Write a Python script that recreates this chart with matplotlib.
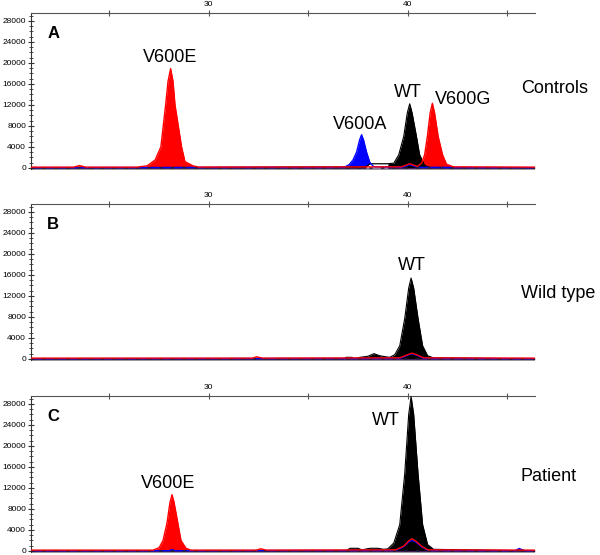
import numpy as np
import matplotlib
matplotlib.use("Agg")
import matplotlib.pyplot as plt
from matplotlib.ticker import MultipleLocator, FixedLocator

plt.rcParams['font.family'] = ['Liberation Sans', 'DejaVu Sans']

# axis ranges (capillary electrophoresis, size units / RFU)
X_MIN, X_MAX = 21.06, 46.4
Y_MIN, Y_MAX = -400, 29500
y_ticks = [0, 4000, 8000, 12000, 16000, 20000, 24000, 28000]
x_ticks = [25, 30, 35, 40, 45]
x_tick_labels = ['', '30', '', '40', '']

panel_letters = ['A', 'B', 'C']
panel_names = ['Controls', 'Wild type', 'Patient']

# ---- panel A : controls ----
a_red_x = [21.06, 23.2, 23.5, 23.8, 26.4, 26.9, 27.3, 27.59, 27.83, 27.95, 28.08, 28.2, 28.3, 28.63,
           28.8, 29.2, 29.5, 39.7, 40.1, 40.4, 40.5, 40.7, 40.85, 40.99, 41.13, 41.24, 41.35, 41.53,
           41.75, 41.95, 42.3, 46.4]
a_red_y = [150, 150, 450, 150, 150, 400, 1500, 4000, 12000, 16500, 18900, 16500, 12000, 4000,
           1200, 400, 150, 200, 800, 400, 300, 900, 2500, 6000, 10500, 12300, 10500, 6000,
           2500, 700, 200, 150]
a_blue_x = [21.06, 36.8, 37.05, 37.25, 37.43, 37.58, 37.68, 37.78, 37.93, 38.1, 38.3,
            39.7, 40.1, 40.5, 46.4]
a_blue_y = [40, 100, 600, 1500, 3000, 5300, 6300, 5300, 3000, 1000, 200,
            100, 600, 100, 40]
a_black_x = [21.06, 37.9, 38.1, 39.0, 39.3, 39.55, 39.8, 39.98, 40.1, 40.22, 40.44, 40.6, 40.85, 41.1, 46.4]
a_black_y = [0, 200, 800, 800, 900, 2500, 6000, 10500, 12200, 10500, 6000, 2500, 500, 100, 0]
a_labels = ['V600E', 'V600A', 'WT', 'V600G']
a_label_x = [28.05, 37.6, 40.0, 42.8]
a_label_y = [21000, 8300, 14300, 13000]

# ---- panel B : wild type ----
b_red_x = [21.06, 32.2, 32.4, 32.7, 39.6, 40.0, 40.2, 40.45, 40.8, 46.4]
b_red_y = [150, 150, 400, 150, 200, 800, 1100, 800, 200, 150]
b_blue_x = [21.06, 39.6, 40.0, 40.2, 40.45, 40.8, 46.4]
b_blue_y = [40, 100, 700, 1000, 700, 100, 40]
b_black_x = [21.06, 36.8, 36.9, 37.2, 37.3, 37.6, 38.0, 38.3, 38.6, 38.9, 39.1, 39.35, 39.6, 39.85,
             40.05, 40.17, 40.3, 40.52, 40.75, 41.0, 41.3, 46.4]
b_black_y = [0, 0, 300, 300, 0, 300, 500, 1000, 600, 400, 300, 800, 2500, 7700,
             13500, 15400, 13500, 7700, 2500, 600, 200, 0]
b_labels = ['WT']
b_label_x = [40.2]
b_label_y = [17700]

# ---- panel C : patient ----
c_red_x = [21.06, 27.2, 27.5, 27.7, 27.9, 28.05, 28.15, 28.25, 28.44, 28.6, 28.85, 29.1,
           32.4, 32.6, 32.9, 39.4, 39.8, 40.05, 40.2, 40.4, 40.7, 41.0, 46.4]
c_red_y = [150, 150, 600, 2000, 5350, 9300, 10700, 9300, 5350, 2000, 500, 150,
           150, 400, 150, 200, 900, 1900, 2300, 1900, 900, 200, 150]
c_blue_x = [21.06, 28.0, 28.15, 28.3, 39.4, 39.8, 40.05, 40.2, 40.4, 40.7, 41.0,
            45.4, 45.6, 45.9, 46.4]
c_blue_y = [40, 40, 250, 40, 100, 800, 1700, 2000, 1700, 800, 100,
            40, 450, 40, 40]
c_black_x = [21.06, 36.9, 37.1, 37.5, 37.7, 38.1, 38.5, 38.8, 39.0, 39.3, 39.6, 39.85,
             40.05, 40.17, 40.3, 40.52, 40.75, 41.0, 41.3, 46.4]
c_black_y = [0, 0, 500, 500, 200, 500, 500, 300, 400, 1500, 5000, 14700,
             26000, 29400, 26000, 14700, 5000, 1200, 300, 0]
c_labels = ['V600E', 'WT']
c_label_x = [27.95, 38.9]
c_label_y = [12900, 24900]

panels = [
    (a_red_x, a_red_y, a_blue_x, a_blue_y, a_black_x, a_black_y, a_labels, a_label_x, a_label_y),
    (b_red_x, b_red_y, b_blue_x, b_blue_y, b_black_x, b_black_y, b_labels, b_label_x, b_label_y),
    (c_red_x, c_red_y, c_blue_x, c_blue_y, c_black_x, c_black_y, c_labels, c_label_x, c_label_y),
]
name_y = [0.52, 0.43, 0.49]

fig = plt.figure(figsize=(6.0, 5.55), dpi=100)
ax_left, ax_w, ax_h = 31 / 600, 504 / 600, 157 / 555
ax_tops = [13, 204, 396]

for i, (rx, ry, bx, by, kx, ky, labs, lx, ly) in enumerate(panels):
    top = 1 - ax_tops[i] / 555
    ax = fig.add_axes([ax_left, top - ax_h, ax_w, ax_h])

    # filled peaks, black on top so small red/blue bumps under WT stay outlines
    ax.fill_between(rx, 0, ry, color='#ff0000', lw=0, zorder=1.5)
    ax.fill_between(bx, 0, by, color='#0000ff', lw=0, zorder=1.5)
    ax.fill_between(kx, 0, ky, color='black', lw=0, zorder=2)
    if i == 0:
        # open outline between V600A and WT
        ax.fill_between(a_black_x[1:4], 0, a_black_y[1:4], color='white', lw=0, zorder=2.5)
    ax.plot(kx, ky, color='black', lw=0.8, zorder=4)
    ax.plot(bx, by, color='#0000ff', lw=1.0, zorder=5)
    ax.plot(rx, ry, color='#ff0000', lw=1.0, zorder=6)
    # dark speckle along the baseline
    ax.plot([X_MIN, X_MAX], [30, 30], color='#202040', lw=1.2, dashes=(2, 5), zorder=5.5)
    ax.axhline(-250, color='#999999', lw=1.5, zorder=1)

    ax.set_xlim(X_MIN, X_MAX)
    ax.set_ylim(Y_MIN, Y_MAX)

    for s in ['right', 'bottom']:
        ax.spines[s].set_visible(False)
    ax.spines['left'].set_color('#333333')
    ax.spines['top'].set_color('#555555')
    ax.spines['left'].set_bounds(-250, Y_MAX)

    ax.yaxis.set_major_locator(FixedLocator(y_ticks))
    ax.yaxis.set_minor_locator(MultipleLocator(1000))
    ax.set_yticklabels([str(v) for v in y_ticks])
    ax.xaxis.tick_top()
    ax.xaxis.set_major_locator(FixedLocator(x_ticks))
    ax.set_xticklabels(x_tick_labels)
    ax.tick_params(axis='y', which='major', direction='inout', length=5, width=0.8,
                   labelsize=6, pad=1, color='#333333')
    ax.tick_params(axis='y', which='minor', direction='inout', length=3, width=0.6,
                   color='#333333')
    ax.tick_params(axis='x', which='major', direction='inout', length=5, width=0.8,
                   labelsize=6, pad=1, color='#555555')

    ax.text(0.032, 0.87, panel_letters[i], transform=ax.transAxes, fontsize=12,
            fontweight='bold', ha='left', va='center')
    ax.text(0.972, name_y[i], panel_names[i], transform=ax.transAxes, fontsize=13,
            ha='left', va='center')
    for t, x, y in zip(labs, lx, ly):
        ax.text(x, y, t, fontsize=13, ha='center', va='center', zorder=8)

fig.savefig('out.png', dpi=100)
